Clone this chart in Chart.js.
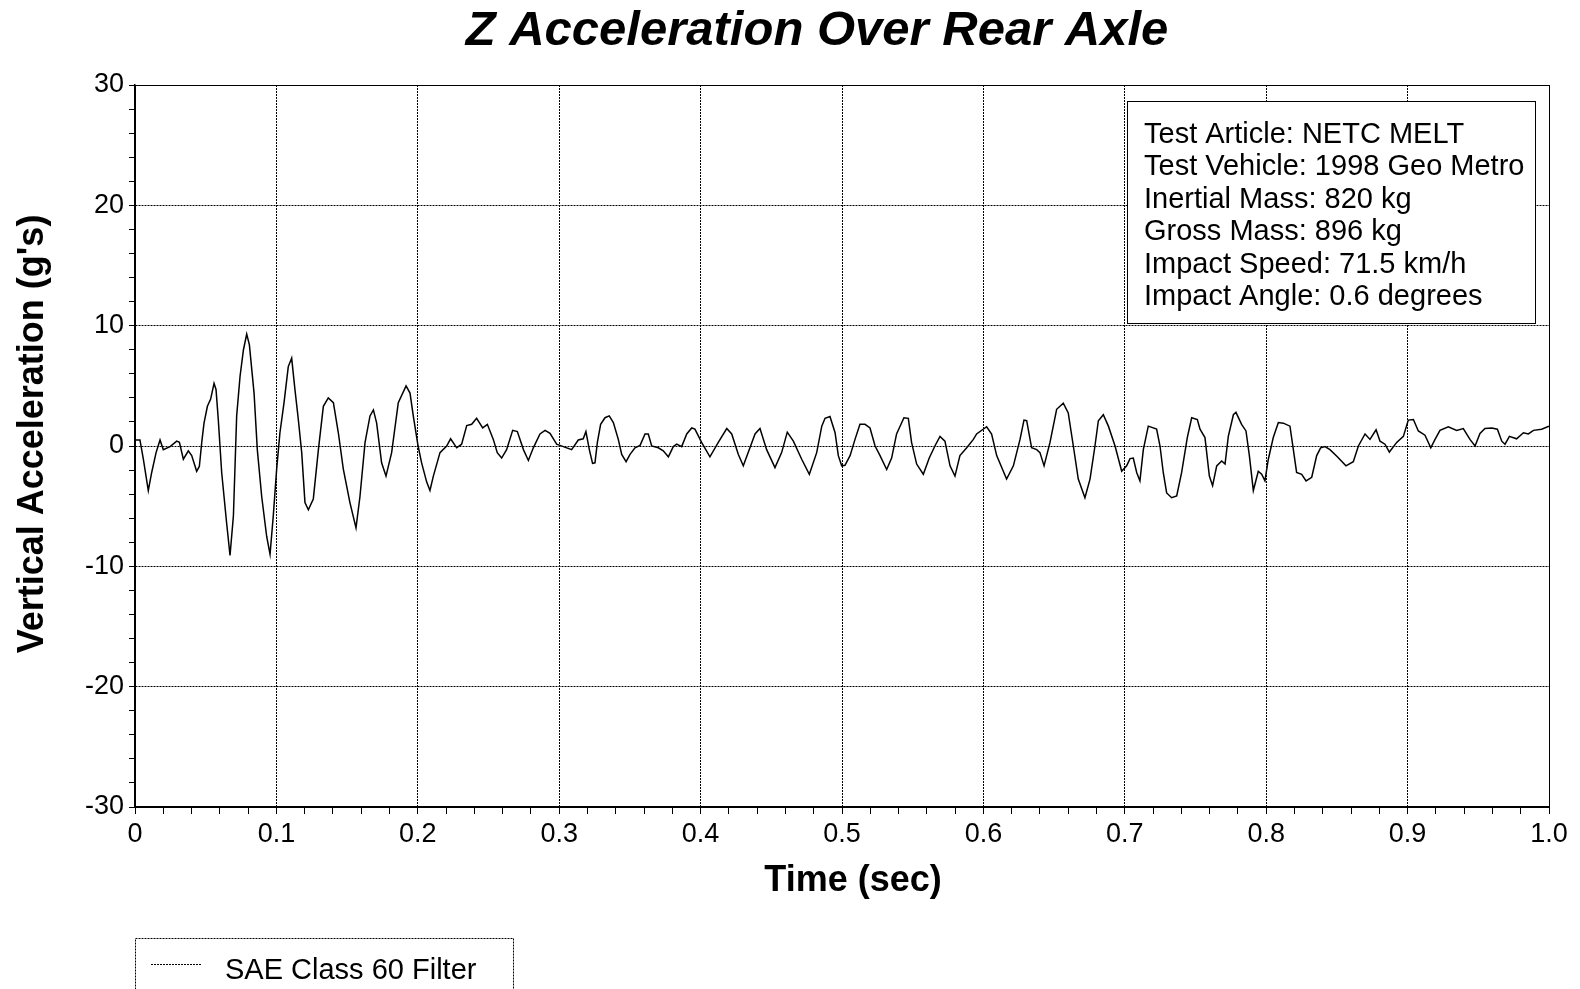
<!DOCTYPE html>
<html>
<head>
<meta charset="utf-8">
<title>Z Acceleration Over Rear Axle</title>
<script src="https://cdn.jsdelivr.net/npm/chart.js@4.4.1/dist/chart.umd.min.js"></script>
<style>
  html, body { margin: 0; padding: 0; background: #fff; }
  #wrap { width: 1580px; height: 989px; }
</style>
</head>
<body>
<div id="wrap"><canvas id="accel-chart" width="1580" height="989"></canvas></div>
<script>
// values (time in s, acceleration in g)
var timeSec = [
  0.0000, 0.0035, 0.0059, 0.0094, 0.0118, 0.0149, 0.0177, 0.0200, 0.0248, 0.0295,
  0.0314, 0.0342, 0.0377, 0.0401, 0.0436, 0.0455, 0.0472, 0.0488, 0.0512, 0.0535,
  0.0559, 0.0573, 0.0589, 0.0613, 0.0648, 0.0672, 0.0696, 0.0719, 0.0743, 0.0767,
  0.0790, 0.0809, 0.0842, 0.0865, 0.0896, 0.0931, 0.0955, 0.0978, 0.1002, 0.1025,
  0.1054, 0.1084, 0.1108, 0.1131, 0.1155, 0.1179, 0.1202, 0.1226, 0.1261, 0.1297,
  0.1332, 0.1367, 0.1403, 0.1438, 0.1473, 0.1520, 0.1563, 0.1591, 0.1627, 0.1662,
  0.1686, 0.1709, 0.1744, 0.1775, 0.1815, 0.1862, 0.1917, 0.1945, 0.1968, 0.2002,
  0.2027, 0.2063, 0.2086, 0.2110, 0.2157, 0.2204, 0.2232, 0.2275, 0.2310, 0.2346,
  0.2381, 0.2416, 0.2459, 0.2492, 0.2534, 0.2562, 0.2593, 0.2628, 0.2671, 0.2704,
  0.2747, 0.2782, 0.2817, 0.2864, 0.2900, 0.2935, 0.2982, 0.3029, 0.3088, 0.3135,
  0.3170, 0.3189, 0.3213, 0.3236, 0.3253, 0.3270, 0.3293, 0.3324, 0.3354, 0.3383,
  0.3418, 0.3442, 0.3473, 0.3501, 0.3536, 0.3572, 0.3607, 0.3630, 0.3654, 0.3701,
  0.3736, 0.3772, 0.3807, 0.3831, 0.3866, 0.3902, 0.3937, 0.3960, 0.4007, 0.4066,
  0.4125, 0.4185, 0.4220, 0.4267, 0.4302, 0.4349, 0.4385, 0.4420, 0.4467, 0.4526,
  0.4573, 0.4613, 0.4656, 0.4715, 0.4769, 0.4821, 0.4857, 0.4880, 0.4915, 0.4951,
  0.4974, 0.4998, 0.5021, 0.5057, 0.5092, 0.5127, 0.5163, 0.5198, 0.5234, 0.5269,
  0.5316, 0.5351, 0.5386, 0.5438, 0.5469, 0.5492, 0.5528, 0.5575, 0.5617, 0.5657,
  0.5693, 0.5728, 0.5764, 0.5799, 0.5834, 0.5882, 0.5929, 0.5952, 0.6023, 0.6058,
  0.6094, 0.6164, 0.6212, 0.6259, 0.6287, 0.6306, 0.6341, 0.6377, 0.6400, 0.6429,
  0.6471, 0.6518, 0.6565, 0.6600, 0.6636, 0.6671, 0.6718, 0.6754, 0.6789, 0.6813,
  0.6848, 0.6884, 0.6931, 0.6978, 0.7013, 0.7037, 0.7060, 0.7084, 0.7107, 0.7131,
  0.7166, 0.7225, 0.7249, 0.7272, 0.7296, 0.7331, 0.7367, 0.7402, 0.7442, 0.7473,
  0.7513, 0.7532, 0.7567, 0.7598, 0.7621, 0.7650, 0.7685, 0.7709, 0.7732, 0.7768,
  0.7786, 0.7826, 0.7857, 0.7881, 0.7909, 0.7944, 0.7968, 0.7991, 0.8015, 0.8050,
  0.8086, 0.8121, 0.8168, 0.8192, 0.8215, 0.8251, 0.8282, 0.8322, 0.8357, 0.8385,
  0.8416, 0.8451, 0.8503, 0.8564, 0.8616, 0.8652, 0.8699, 0.8734, 0.8777, 0.8805,
  0.8840, 0.8871, 0.8923, 0.8970, 0.9005, 0.9041, 0.9076, 0.9123, 0.9164, 0.9194,
  0.9229, 0.9288, 0.9347, 0.9394, 0.9441, 0.9477, 0.9512, 0.9547, 0.9595, 0.9635,
  0.9666, 0.9689, 0.9720, 0.9771, 0.9819, 0.9854, 0.9890, 0.9948, 1.0000
];
var accelG = [
  0.5, 0.5, -1.1, -3.7, -2.2, -0.55, 0.5, -0.3, -0.05, 0.4,
  0.3, -1.1, -0.4, -0.8, -2.1, -1.7, 0.3, 1.9, 3.3, 3.9,
  5.2, 4.7, 2.2, -2.2, -6.4, -9.1, -5.8, 2.5, 5.8, 8.0,
  9.3, 8.4, 4.4, -0.3, -4.2, -7.5, -9.0, -5.8, -1.9, 1.1,
  3.6, 6.6, 7.3, 4.7, 2.2, -0.55, -4.7, -5.3, -4.4, -0.3,
  3.3, 4.0, 3.6, 1.1, -1.9, -4.7, -6.8, -4.2, 0.3, 2.5,
  3.0, 1.9, -1.4, -2.5, -0.55, 3.6, 5.0, 4.4, 2.5, 0.0,
  -1.4, -3.0, -3.7, -2.5, -0.55, 0.0, 0.6, -0.15, 0.15, 1.7,
  1.8, 2.3, 1.5, 1.8, 0.55, -0.55, -1.0, -0.3, 1.3, 1.2,
  -0.3, -1.2, -0.15, 1.0, 1.3, 1.05, 0.15, -0.05, -0.3, 0.5,
  0.6, 1.2, -0.3, -1.45, -1.4, 0.3, 1.8, 2.35, 2.5, 1.95,
  0.55, -0.7, -1.3, -0.7, -0.15, 0.05, 1.0, 1.0, 0.0, -0.15,
  -0.4, -0.9, -0.05, 0.15, -0.05, 1.0, 1.5, 1.4, 0.3, -0.9,
  0.3, 1.45, 1.0, -0.7, -1.65, -0.15, 1.0, 1.45, -0.3, -1.8,
  -0.55, 1.15, 0.4, -1.1, -2.35, -0.55, 1.65, 2.3, 2.45, 1.1,
  -0.8, -1.65, -1.6, -0.8, 0.55, 1.8, 1.8, 1.5, 0.0, -0.8,
  -1.95, -1.0, 1.0, 2.35, 2.3, 0.3, -1.5, -2.35, -1.0, 0.0,
  0.8, 0.4, -1.65, -2.5, -0.8, -0.15, 0.55, 1.0, 1.6, 1.0,
  -0.8, -2.75, -1.65, 0.55, 2.15, 2.1, -0.15, -0.3, -0.55, -1.65,
  0.3, 3.05, 3.55, 2.75, 0.0, -2.75, -4.3, -2.75, 0.0, 2.1,
  2.6, 1.65, 0.0, -2.1, -1.65, -1.05, -1.0, -2.2, -2.9, -0.3,
  1.65, 1.4, 0.0, -2.2, -3.9, -4.3, -4.15, -2.2, 0.7, 2.35,
  2.2, 1.4, 0.7, -2.5, -3.3, -1.65, -1.25, -1.5, 0.8, 2.6,
  2.8, 1.8, 1.25, -0.8, -3.7, -2.1, -2.35, -2.9, -1.1, 0.7,
  1.95, 1.9, 1.65, -0.3, -2.2, -2.35, -2.9, -2.6, -0.8, -0.15,
  -0.05, -0.3, -0.9, -1.65, -1.3, 0.0, 1.0, 0.55, 1.35, 0.4,
  0.15, -0.5, 0.3, 0.8, 2.15, 2.2, 1.25, 0.9, -0.15, 0.55,
  1.3, 1.6, 1.3, 1.45, 0.55, 0.0, 1.05, 1.45, 1.5, 1.4,
  0.4, 0.15, 0.8, 0.6, 1.1, 1.0, 1.3, 1.4, 1.65
];
var seriesName = "SAE Class 60 Filter";
var infoLines = [
  "Test Article: NETC MELT",
  "Test Vehicle: 1998 Geo Metro",
  "Inertial Mass: 820 kg",
  "Gross Mass: 896 kg",
  "Impact Speed: 71.5 km/h",
  "Impact Angle: 0.6 degrees"
];
var chartTitle = "Z Acceleration Over Rear Axle";
var xTitle = "Time (sec)";
var yTitle = "Vertical Acceleration (g's)";

var FONT = "'Liberation Sans', Arial, Helvetica, sans-serif";
Chart.defaults.font.family = FONT;
Chart.defaults.color = '#000';

var points = [];
for (var i = 0; i < timeSec.length; i++) {
    points.push({ x: timeSec[i], y: accelG[i] });
}

function isMajorX(v) {
    return Math.abs(v * 10 - Math.round(v * 10)) < 1e-6;
}
function isMajorY(v) {
    return Math.abs(v / 10 - Math.round(v / 10)) < 1e-6;
}

// title, axis titles, info box and legend drawn on the canvas
var decorPlugin = {
    id: 'decor',
    afterDatasetsDraw: function (chart) {
        var ctx = chart.ctx;
        var a = chart.chartArea;
        ctx.save();
        // solid frame around the plot
        ctx.strokeStyle = '#000';
        ctx.lineWidth = 1;
        ctx.setLineDash([]);
        ctx.strokeRect(Math.round(a.left) + 0.5, Math.round(a.top) + 0.5,
                       Math.round(a.right - a.left), Math.round(a.bottom - a.top));

        ctx.fillStyle = '#000';
        ctx.textBaseline = 'middle';

        ctx.font = 'italic bold 49px ' + FONT;
        ctx.textAlign = 'center';
        ctx.fillText(chartTitle, 817, 31);

        ctx.font = 'bold 36px ' + FONT;
        ctx.fillText(xTitle, 853, 881);

        ctx.save();
        ctx.translate(33, 434);
        ctx.rotate(-Math.PI / 2);
        ctx.fillText(yTitle, 0, 0);
        ctx.restore();

        // info box
        ctx.fillStyle = '#fff';
        ctx.fillRect(1127, 101, 408, 222);
        ctx.strokeStyle = '#000';
        ctx.strokeRect(1127.5, 101.5, 408, 222);
        ctx.fillStyle = '#000';
        ctx.font = '29px ' + FONT;
        ctx.textAlign = 'left';
        for (var i = 0; i < infoLines.length; i++) {
            ctx.fillText(infoLines[i], 1144, 135 + i * 32.45);
        }

        // legend
        ctx.setLineDash([2, 1]);
        ctx.strokeRect(135.5, 938.5, 378, 60);
        ctx.beginPath();
        ctx.moveTo(151, 964.5);
        ctx.lineTo(202, 964.5);
        ctx.stroke();
        ctx.setLineDash([]);
        ctx.font = '29px ' + FONT;
        ctx.textBaseline = 'alphabetic';
        ctx.fillText(seriesName, 225, 979);
        ctx.restore();
    }
};

var accelConfig = {
    type: 'line',
    data: {
        datasets: [{
            label: seriesName,
            data: points,
            borderColor: '#000',
            borderWidth: 1.5,
            pointRadius: 0,
            tension: 0,
            fill: false
        }]
    },
    options: {
        responsive: false,
        animation: false,
        events: [],
        layout: { padding: { top: 85, right: 31, left: 0, bottom: 0 } },
        plugins: {
            legend: { display: false },
            title: { display: false },
            tooltip: { enabled: false }
        },
        scales: {
            x: {
                type: 'linear',
                min: 0,
                max: 1,
                afterFit: function (scale) { scale.height = 182; },
                ticks: {
                    stepSize: 0.02,
                    autoSkip: false,
                    maxRotation: 0,
                    minRotation: 0,
                    padding: 4,
                    font: { size: 27 },
                    color: '#000',
                    callback: function (v) {
                        if (!isMajorX(v)) return '';
                        if (Math.abs(v) < 1e-9) return '0';
                        return v.toFixed(1);
                    }
                },
                grid: {
                    color: function (c) {
                        return c.tick && isMajorX(c.tick.value) ? '#000' : 'rgba(0,0,0,0)';
                    },
                    tickColor: '#000',
                    tickLength: 7,
                    lineWidth: 1
                },
                border: { display: true, color: '#000', width: 1.5, dash: [2, 1] }
            },
            y: {
                type: 'linear',
                min: -30,
                max: 30,
                afterFit: function (scale) { scale.width = 135; },
                ticks: {
                    stepSize: 2,
                    autoSkip: false,
                    padding: 5,
                    font: { size: 27 },
                    color: '#000',
                    callback: function (v) {
                        return isMajorY(v) ? String(Math.round(v)) : '';
                    }
                },
                grid: {
                    color: function (c) {
                        return c.tick && isMajorY(c.tick.value) ? '#000' : 'rgba(0,0,0,0)';
                    },
                    tickColor: '#000',
                    tickLength: 6,
                    lineWidth: 1
                },
                border: { display: true, color: '#000', width: 1.5, dash: [2, 1] }
            }
        }
    },
    plugins: [decorPlugin]
};

var accelContext = document.getElementById("accel-chart").getContext("2d");
window.accelChart = new Chart(accelContext, accelConfig);
</script>
</body>
</html>
